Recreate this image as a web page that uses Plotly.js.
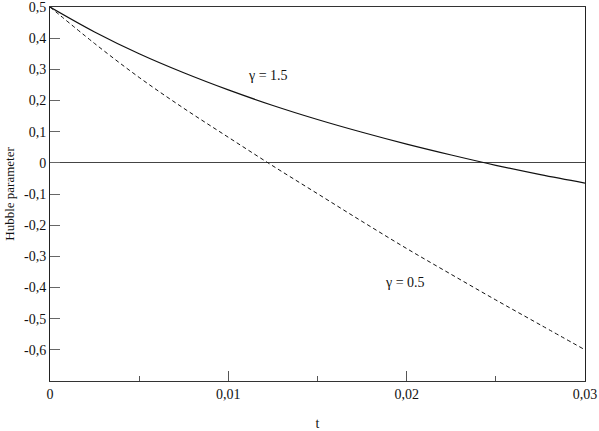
<!DOCTYPE html>
<html>
<head>
<meta charset="utf-8">
<script src="https://cdn.plot.ly/plotly-3.0.1.min.js"></script>
<style>
  html, body { margin: 0; padding: 0; background: #fff; }
  #plot { width: 599px; height: 431px; }
</style>
</head>
<body>
<div id="plot"></div>
<script>
// values
var t = [0, 0.0025, 0.005, 0.0075, 0.01, 0.0125, 0.015, 0.0175, 0.02, 0.0225, 0.025, 0.0275, 0.03];
var hGamma15 = [0.5, 0.420, 0.350, 0.289, 0.234, 0.184, 0.139, 0.098, 0.060, 0.025, -0.008, -0.038, -0.065];
var hGamma05 = [0.5, 0.383, 0.274, 0.175, 0.082, -0.010, -0.099, -0.188, -0.275, -0.358, -0.440, -0.520, -0.600];

var yTickVals = [0.5, 0.4, 0.3, 0.2, 0.1, 0, -0.1, -0.2, -0.3, -0.4, -0.5, -0.6];
var yTickText = ['0,5', '0,4', '0,3', '0,2', '0,1', '0', '-0,1', '-0,2', '-0,3', '-0,4', '-0,5', '-0,6'];
var xTickVals = [0, 0.01, 0.02, 0.03];
var xTickText = ['0', '0,01', '0,02', '0,03'];

var serif = 'Liberation Serif, Times New Roman, serif';

var trace1 = {
  x: t,
  y: hGamma15,
  mode: 'lines',
  line: {color: '#111', width: 1.2, shape: 'spline'},
  hoverinfo: 'skip',
  type: 'scatter'
};

var trace2 = {
  x: t,
  y: hGamma05,
  mode: 'lines',
  line: {color: '#111', width: 1, dash: '4px,3px', shape: 'spline'},
  hoverinfo: 'skip',
  type: 'scatter'
};

var data = [trace1, trace2];

var layout = {
  width: 599,
  height: 431,
  margin: {l: 50, r: 14, t: 7, b: 50},
  showlegend: false,
  font: {family: serif, size: 14, color: '#111'},
  xaxis: {
    range: [0, 0.03],
    tickvals: xTickVals,
    ticktext: xTickText,
    ticks: 'inside',
    ticklen: 10,
    tickcolor: '#555',
    minor: {ticks: 'inside', ticklen: 5, tickcolor: '#555', dtick: 0.005, showgrid: false},
    ticklabeloverflow: 'allow',
    showgrid: false,
    zeroline: false,
    showline: true,
    linecolor: '#333',
    linewidth: 1,
    mirror: true,
    title: {text: 't', standoff: 18, font: {family: serif, size: 14}}
  },
  yaxis: {
    range: [-0.7, 0.5],
    tickvals: yTickVals,
    ticktext: yTickText,
    ticks: 'inside',
    ticklen: 10,
    tickcolor: '#666',
    ticklabeloverflow: 'allow',
    showgrid: false,
    zeroline: true,
    zerolinecolor: '#444',
    zerolinewidth: 1,
    showline: true,
    linecolor: '#222',
    linewidth: 1,
    mirror: true,
    title: {text: 'Hubble parameter', standoff: 6, font: {family: serif, size: 13}}
  },
  annotations: [
    {x: 0.0122, y: 0.279, text: 'γ = 1.5', showarrow: false, font: {family: serif, size: 14}},
    {x: 0.0199, y: -0.385, text: 'γ = 0.5', showarrow: false, font: {family: serif, size: 14}}
  ],
  plot_bgcolor: '#fff',
  paper_bgcolor: '#fff'
};

Plotly.newPlot('plot', data, layout, {displayModeBar: false, staticPlot: true});
</script>
</body>
</html>
